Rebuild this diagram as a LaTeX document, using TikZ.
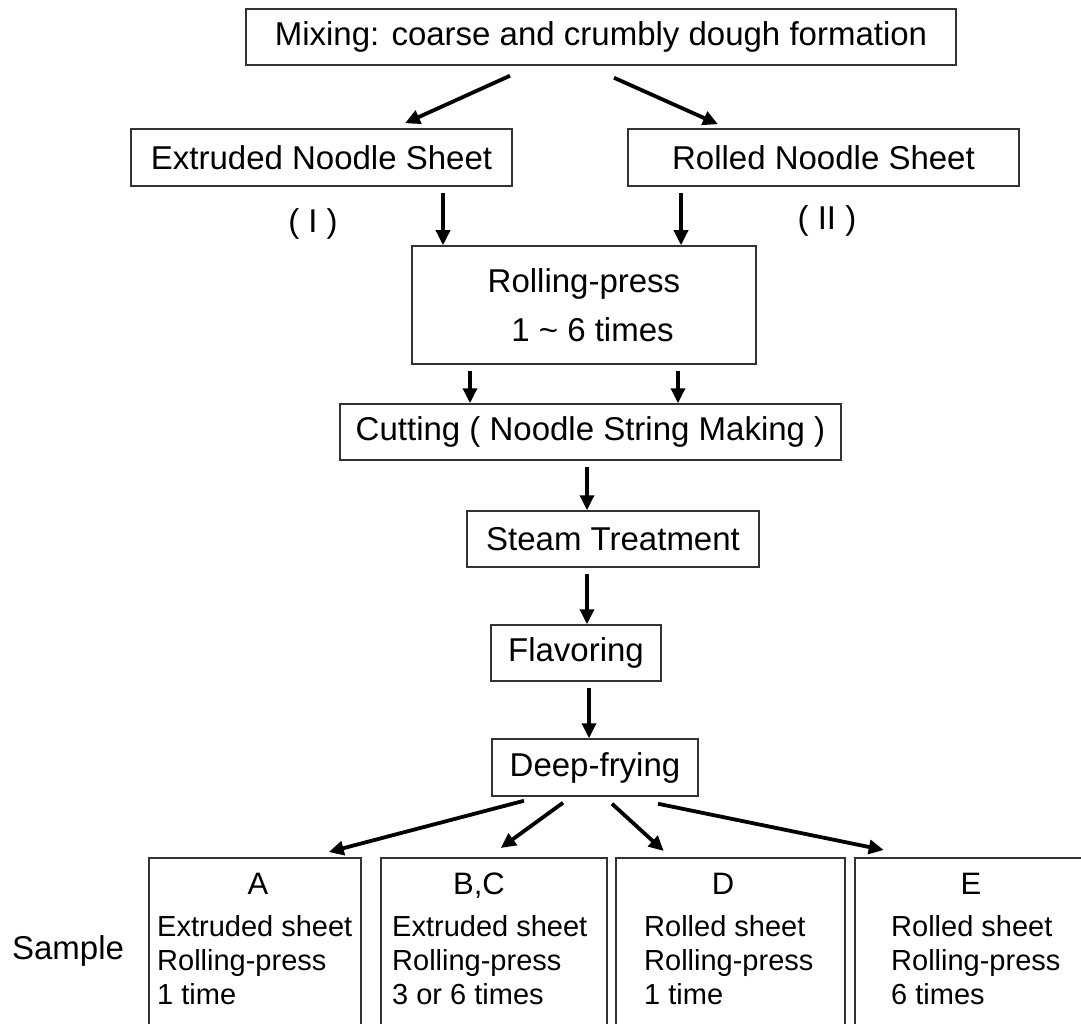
\documentclass[tikz,border=0pt]{standalone}
\usepackage{fontspec}
\setmainfont{Liberation Sans}
\usetikzlibrary{arrows.meta}
\begin{document}
\begin{tikzpicture}[x=1pt,y=-1pt,
  box/.style={draw=black!80,line width=1.5pt,inner sep=0pt,font=\fontsize{33}{40}\selectfont},
  sbox/.style={draw=black!80,line width=1.5pt,inner sep=0pt,anchor=north west,minimum height=200},
  lbl/.style={inner sep=0pt,font=\fontsize{33}{40}\selectfont},
  ttl/.style={inner sep=0pt,anchor=base,font=\fontsize{31}{36}\selectfont},
  txt/.style={inner sep=0pt,anchor=base west,align=left,font=\fontsize{29}{34}\selectfont},
  arr/.style={line width=3.4pt,-{Triangle[length=15pt,width=14pt]},shorten <=6pt},
  darr/.style={arr,line width=3.8pt,shorten <=0pt}]
\useasboundingbox (0,0) rectangle (1081,1024);
\clip (0,0) rectangle (1081,1024);
\node[box,minimum width=710,minimum height=56] (mix) at (601,37) {Mixing: coarse and crumbly dough formation};
\node[box,minimum width=381,minimum height=57] (ext) at (321.5,157.5) {Extruded Noodle Sheet};
\node[box,minimum width=391,minimum height=57] (rol) at (823.5,157.5) {Rolled Noodle Sheet};
\node[lbl] (one) at (313,224) {( I )};
\node[lbl] (two) at (827,221) {( II )};
\node[box,minimum width=344,minimum height=118,align=center,font=\fontsize{33}{49}\selectfont] (press) at (584,305) {Rolling-press\\\hspace*{17pt}1 \textasciitilde{} 6 times};
\node[box,minimum width=501,minimum height=56] (cut) at (590.5,432) {Cutting ( Noodle String Making )};
\node[box,minimum width=292,minimum height=56] (steam) at (613,539) {Steam Treatment};
\node[box,minimum width=170,minimum height=56] (flav) at (576,653) {Flavoring};
\node[box,minimum width=206,minimum height=57] (fry) at (595,767.5) {Deep-frying};
\node[lbl] (smp) at (68,951) {Sample};
\node[sbox,minimum width=212] (sA) at (148,857) {};
\node[sbox,minimum width=226] (sBC) at (380,857) {};
\node[sbox,minimum width=229] (sD) at (615,857) {};
\node[sbox,minimum width=240] (sE) at (854,857) {};
\node[ttl] (tA) at (258,894) {A};
\node[ttl] (tBC) at (479,894) {B,C};
\node[ttl] (tD) at (723,894) {D};
\node[ttl] (tE) at (971,894) {E};
\node[txt] (xA) at (157,1004) {Extruded sheet\\Rolling-press\\1 time};
\node[txt] (xBC) at (392,1004) {Extruded sheet\\Rolling-press\\3 or 6 times};
\node[txt] (xD) at (644,1004) {Rolled sheet\\Rolling-press\\1 time};
\node[txt] (xE) at (891,1004) {Rolled sheet\\Rolling-press\\6 times};
\draw[darr] ([shift={(-91,10)}]mix.south) -- ([shift={(83.5,-5)}]ext.north);
\draw[darr] ([shift={(13,12)}]mix.south) -- ([shift={(-105.5,-4)}]rol.north);
\draw[arr] ([shift={(121.5,0)}]ext.south) -- ([shift={(-141,0)}]press.north);
\draw[arr] ([shift={(-142.5,0)}]rol.south) -- ([shift={(97,0)}]press.north);
\draw[arr] ([shift={(-114,0)}]press.south) -- ([shift={(-120.5,0)}]cut.north);
\draw[arr] ([shift={(94,0)}]press.south) -- ([shift={(87.5,0)}]cut.north);
\draw[arr] ([shift={(-3.5,0)}]cut.south) -- ([shift={(-26,0)}]steam.north);
\draw[arr] ([shift={(-26,0)}]steam.south) -- ([shift={(11,0)}]flav.north);
\draw[arr] ([shift={(13,0)}]flav.south) -- ([shift={(-6,0)}]fry.north);
\draw[darr] ([shift={(-71,4)}]fry.south) -- ([shift={(74,-5)}]sA.north);
\draw[darr] ([shift={(-32,6)}]fry.south) -- ([shift={(7,-9)}]sBC.north);
\draw[darr] ([shift={(17,7)}]fry.south) -- ([shift={(-66.5,-6)}]sD.north);
\draw[darr] ([shift={(63,7)}]fry.south) -- ([shift={(-91,-7)}]sE.north);
\end{tikzpicture}
\end{document}
